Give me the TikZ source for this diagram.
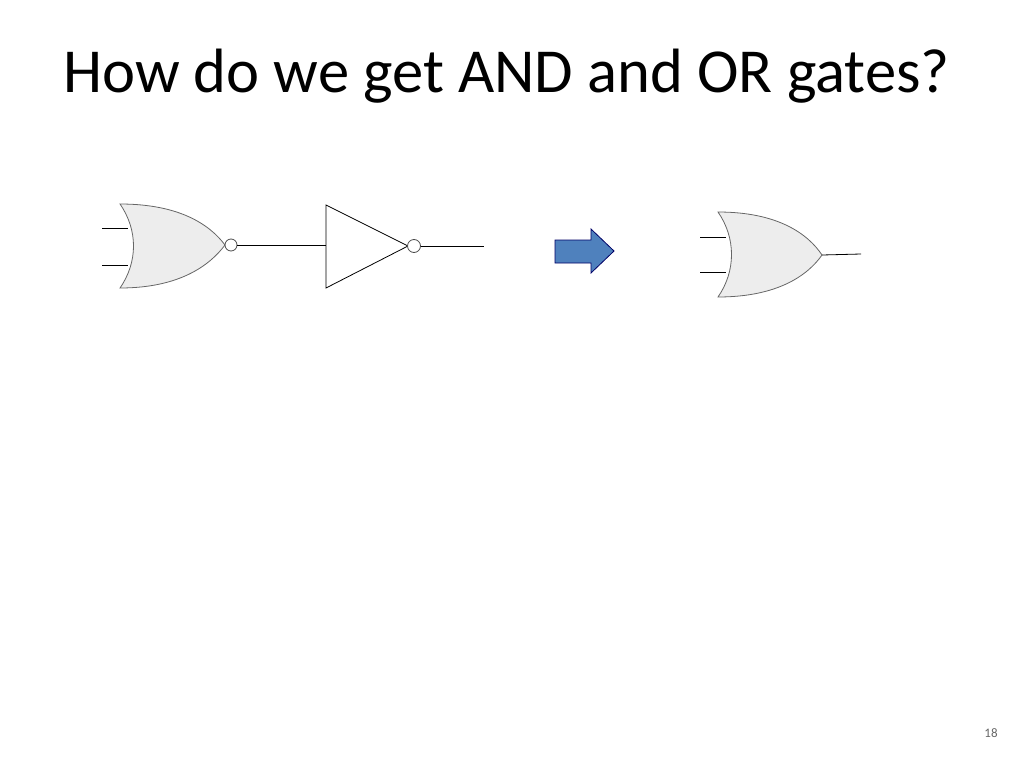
\documentclass[tikz,border=0pt]{standalone}
\usepackage{fontspec}
\setmainfont{Carlito}
\begin{document}
\begin{tikzpicture}[x=1pt,y=-1pt,
  gate/.style={draw=black!60,fill=black!7,line width=0.8pt},
  wire/.style={draw=black,line width=0.8pt},
  bub/.style={circle,draw=black!70,fill=white,inner sep=0pt,minimum size=11pt,line width=0.8pt}]
\useasboundingbox (0,0) rectangle (1024,768);
\node[anchor=base west,inner sep=0pt,font=\fontsize{62.6}{64}\selectfont] (title) at (63,92) {How do we get AND and OR gates?};
% NOR gate
\coordinate (n1) at (120,204); \coordinate (n2) at (120,288); \coordinate (nt) at (225,245);
\path[gate] (n1) .. controls (138,230) and (138,262) .. (n2) .. controls (180,288) and (210,265) .. (nt) .. controls (210,225) and (180,204) .. cycle;
\coordinate (ia) at (102,228); \coordinate (ib) at (102,265);
\draw[wire] (ia) -- (128,228); \draw[wire] (ib) -- (128,265);
\node[bub,minimum size=12pt] (b1) at (231,245) {};
% inverter
\coordinate (t1) at (326,205); \coordinate (t2) at (326,288); \coordinate (t3) at (408,246);
\draw[line width=0.8pt,fill=white] (t1) -- (t2) -- (t3) -- cycle;
\draw[wire] (b1) -- (326,245);
\node[bub,minimum size=13pt] (b2) at (414,246) {};
\coordinate (o1) at (484,246);
\draw[wire] (b2) -- (o1);
% arrow
\path[draw=blue!40!black,fill={rgb,255:red,79;green,129;blue,189},line width=0.8pt]
  (555,240) -- (591,240) -- (591,229) -- (614,251) -- (591,273) -- (591,263) -- (555,263) -- cycle;
% OR gate
\coordinate (r1) at (718,212); \coordinate (r2) at (718,297); \coordinate (rt) at (822,255);
\path[gate] (r1) .. controls (736,238) and (736,271) .. (r2) .. controls (778,297) and (808,275) .. (rt) .. controls (808,234) and (778,212) .. cycle;
\draw[wire] (700,237) -- (726,237); \draw[wire] (700,272) -- (726,272);
\coordinate (ro) at (861,254);
\draw[wire] (rt) -- (ro);
\node[text=black!60,font=\fontsize{13}{14}\selectfont] (pg) at (991,733) {18};
\end{tikzpicture}
\end{document}
